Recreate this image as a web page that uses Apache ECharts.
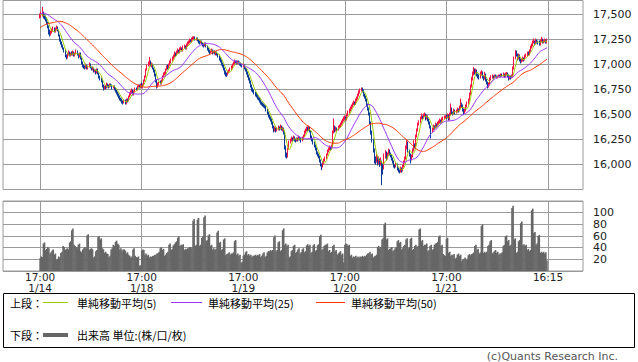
<!DOCTYPE html>
<html><head><meta charset="utf-8">
<script src="https://cdn.jsdelivr.net/npm/echarts/dist/echarts.min.js"></script>
<style>html,body{margin:0;padding:0;background:#fff}#c{width:638px;height:362px}</style>
</head><body><div id="c"></div>
<script>
// ---- tick labels ----
const dayStarts = ['1/14','1/18','1/19','1/20','1/21'];
const tickTimes = ['17:00','17:00','17:00','17:00','17:00','16:15'];
const barsPerDay = 93; // 15-minute bars, 17:00 - 16:15
// ---- closes before the visible range (needed for the moving averages) ----
const priorCloses = [17150,17170,17180,17160,17190,17210,17200,17180,17210,17230,17220,17200,17230,17240,17220,17210,17200,
17260,17280,17270,17300,17320,17310,17330,17340,
17400,17440,17470,17500,17520,17510,17530,17540,17520,17510,17530,17550,17540,17520,17500,17510,17530,17520,17500,17490,17510,17520,17500,17480];
// ---- candles [open, close, low, high] ----
const candlesDay1 = [
[17480,17490,17460,17510],[17490,17500,17470,17530],[17500,17510,17480,17576],[17510,17480,17460,17530],[17480,17470,17450,17500],
[17470,17450,17430,17490],[17450,17420,17400,17460],[17420,17380,17360,17430],[17380,17330,17300,17390],[17330,17300,17280,17350],
[17300,17320,17290,17340],[17320,17340,17310,17360],[17340,17360,17330,17380],[17360,17330,17320,17370],[17330,17350,17320,17370],
[17350,17370,17340,17390],[17370,17340,17330,17380],[17340,17290,17280,17350],[17290,17250,17230,17300],[17250,17220,17200,17260],
[17220,17190,17170,17230],[17190,17160,17150,17200],[17160,17140,17120,17170],[17140,17090,17070,17150],[17090,17070,17050,17100],
[17070,17100,17060,17110],[17100,17120,17090,17140],[17120,17090,17080,17130],[17090,17110,17080,17120],[17110,17100,17090,17130],
[17100,17120,17090,17140],[17120,17090,17080,17130],[17090,17110,17080,17120],[17110,17130,17100,17150],[17130,17100,17090,17140],
[17100,17080,17060,17110],[17080,17110,17070,17120],[17110,17060,17050,17120],[17060,17020,17000,17070],[17020,16990,16970,17030],
[16990,16980,16960,17000],[16980,16970,16950,16990],[16970,16990,16960,17010],[16990,16960,16950,17000],[16960,16980,16950,16990],
[16980,17000,16970,17020],[17000,16970,16960,17010],[16970,16950,16940,16980],[16950,16960,16940,16980],[16960,16930,16920,16970],
[16930,16940,16920,16950],[16940,16920,16900,16950],[16920,16950,16910,16960],[16950,16910,16900,16960],[16910,16880,16860,16920],
[16880,16860,16840,16890],[16860,16840,16820,16870],[16840,16790,16770,16850],[16790,16760,16740,16800],[16760,16780,16750,16790],
[16780,16770,16750,16790],[16770,16800,16760,16820],[16800,16790,16770,16810],[16790,16780,16760,16800],[16780,16800,16770,16810],
[16800,16790,16780,16810],[16790,16770,16750,16800],[16770,16780,16760,16790],[16780,16760,16740,16790],[16760,16740,16720,16770],
[16740,16720,16700,16750],[16720,16700,16680,16730],[16700,16680,16660,16710],[16680,16660,16640,16690],[16660,16650,16630,16670],
[16650,16630,16610,16660],[16630,16620,16600,16640],[16620,16640,16610,16650],[16640,16610,16600,16650],[16610,16650,16600,16660],
[16650,16640,16620,16660],[16640,16680,16630,16690],[16680,16700,16670,16720],[16700,16720,16690,16740],[16720,16740,16710,16760],
[16740,16700,16690,16750],[16700,16730,16690,16740],[16730,16760,16720,16770],[16760,16750,16740,16770],[16750,16780,16740,16790],
[16780,16790,16770,16800],[16790,16770,16760,16800],[16770,16800,16760,16810]];
const candlesDay2 = [
[16800,16780,16770,16820],[16780,16800,16760,16810],[16800,16840,16790,16850],[16840,16880,16830,16890],[16880,16950,16870,16960],
[16950,16990,16940,17000],[16990,17010,16980,17030],[17010,17030,16990,17076],[17030,16990,16980,17040],[16990,17000,16970,17020],
[17000,16960,16950,17010],[16960,16940,16920,16970],[16940,16900,16880,16950],[16900,16840,16820,16910],[16840,16790,16760,16850],
[16790,16800,16770,16820],[16800,16820,16790,16830],[16820,16810,16800,16840],[16810,16840,16800,16850],[16840,16880,16830,16890],
[16880,16900,16870,16920],[16900,16910,16890,16930],[16910,16950,16900,16960],[16950,16980,16940,16990],[16980,16970,16950,17000],
[16970,17000,16960,17010],[17000,17020,16990,17040],[17020,17040,17010,17060],[17040,17060,17030,17080],[17060,17080,17050,17100],
[17080,17110,17070,17130],[17110,17100,17080,17120],[17100,17120,17090,17140],[17120,17140,17110,17160],[17140,17120,17110,17150],
[17120,17150,17110,17170],[17150,17160,17140,17180],[17160,17140,17130,17170],[17140,17170,17130,17190],[17170,17180,17160,17200],
[17180,17160,17150,17190],[17160,17190,17150,17210],[17190,17210,17180,17230],[17210,17220,17200,17240],[17220,17240,17210,17260],
[17240,17230,17220,17250],[17230,17250,17220,17270],[17250,17260,17240,17280],[17260,17270,17250,17283],[17270,17250,17240,17280],
[17250,17260,17240,17270],[17260,17240,17230,17270],[17240,17230,17210,17250],[17230,17220,17200,17240],[17220,17230,17210,17240],
[17230,17210,17200,17240],[17210,17200,17180,17220],[17200,17190,17170,17210],[17190,17210,17180,17220],[17210,17180,17170,17220],
[17180,17160,17140,17190],[17160,17140,17120,17170],[17140,17120,17100,17150],[17120,17130,17110,17140],[17130,17140,17120,17160],
[17140,17120,17100,17150],[17120,17130,17110,17140],[17130,17110,17100,17140],[17110,17120,17090,17130],[17120,17100,17090,17130],
[17100,17090,17070,17110],[17090,17060,17040,17100],[17060,17040,17020,17070],[17040,17010,16990,17050],[17010,16990,16970,17020],
[16990,16960,16940,17000],[16960,16930,16900,16970],[16930,16910,16880,16940],[16910,16900,16876,16920],[16900,16920,16890,16940],
[16920,16940,16910,16950],[16940,16950,16930,16970],[16950,16970,16940,16990],[16970,17000,16960,17010],[17000,17010,16990,17030],
[17010,17030,17000,17050],[17030,17020,17010,17040],[17020,17010,17000,17040],[17010,17030,17000,17040],[17030,17020,17010,17040],
[17020,17010,16990,17030],[17010,16990,16980,17020],[16990,16980,16970,17000]];
const candlesDay3 = [
[16980,16990,16970,17010],[16990,16960,16950,17000],[16960,16950,16930,16970],[16950,16920,16900,16960],[16920,16890,16870,16930],
[16890,16860,16840,16900],[16860,16830,16810,16870],[16830,16790,16770,16840],[16790,16760,16730,16800],[16760,16740,16720,16770],
[16740,16720,16700,16750],[16720,16700,16680,16730],[16700,16690,16670,16720],[16690,16670,16650,16700],[16670,16660,16640,16680],
[16660,16640,16620,16670],[16640,16620,16600,16650],[16620,16610,16590,16630],[16610,16600,16580,16620],[16600,16590,16570,16610],
[16590,16580,16560,16600],[16580,16550,16530,16590],[16550,16520,16500,16560],[16520,16490,16470,16530],[16490,16470,16450,16500],
[16470,16450,16430,16480],[16450,16420,16400,16460],[16420,16380,16360,16430],[16380,16350,16320,16390],[16350,16360,16330,16380],
[16360,16340,16320,16370],[16340,16350,16330,16370],[16350,16370,16340,16390],[16370,16360,16340,16380],[16360,16380,16350,16400],
[16380,16350,16340,16390],[16350,16360,16330,16380],[16360,16320,16300,16370],[16320,16180,16150,16330],[16180,16100,16070,16190],
[16100,16080,16060,16120],[16080,16160,16070,16170],[16160,16220,16150,16240],[16220,16240,16210,16260],[16240,16260,16230,16280],
[16260,16250,16230,16270],[16250,16270,16240,16290],[16270,16250,16230,16280],[16250,16240,16220,16260],[16240,16260,16230,16270],
[16260,16250,16230,16270],[16250,16270,16240,16290],[16270,16260,16240,16280],[16260,16240,16220,16270],[16240,16260,16230,16280],
[16260,16290,16250,16300],[16290,16320,16280,16340],[16320,16340,16310,16360],[16340,16360,16330,16380],[16360,16350,16330,16380],
[16350,16370,16340,16390],[16370,16330,16320,16380],[16330,16280,16260,16340],[16280,16250,16230,16290],[16250,16220,16200,16260],
[16220,16190,16170,16230],[16190,16160,16140,16200],[16160,16120,16100,16170],[16120,16100,16080,16130],[16100,16080,16060,16110],
[16080,16040,16020,16090],[16040,16000,15980,16050],[16000,15980,15943,16010],[15980,16010,15970,16030],[16010,16040,16000,16060],
[16040,16060,16030,16080],[16060,16100,16050,16110],[16100,16130,16090,16150],[16130,16150,16120,16170],[16150,16170,16140,16190],
[16170,16160,16140,16180],[16160,16180,16150,16200],[16180,16320,16170,16340],[16320,16380,16310,16460],[16380,16340,16320,16390],
[16340,16360,16330,16380],[16360,16350,16330,16370],[16350,16370,16340,16390],[16370,16380,16360,16400],[16380,16400,16370,16420],
[16400,16420,16390,16440],[16420,16440,16410,16460],[16440,16460,16430,16480]];
const candlesDay4 = [
[16460,16470,16440,16490],[16470,16450,16430,16480],[16450,16490,16440,16510],[16490,16520,16480,16540],[16520,16540,16510,16560],
[16540,16560,16530,16580],[16560,16580,16550,16600],[16580,16600,16570,16620],[16600,16620,16590,16640],[16620,16610,16590,16630],
[16610,16640,16600,16660],[16640,16660,16630,16680],[16660,16690,16650,16710],[16690,16720,16680,16740],[16720,16740,16710,16760],
[16740,16760,16730,16770],[16760,16740,16720,16770],[16740,16700,16680,16750],[16700,16680,16660,16710],[16680,16650,16630,16690],
[16650,16600,16580,16660],[16600,16560,16540,16610],[16560,16510,16490,16570],[16510,16420,16400,16520],[16420,16330,16300,16430],
[16330,16250,16220,16340],[16250,16150,16120,16260],[16150,16060,16010,16160],[16060,16040,16000,16080],[16040,16080,16020,16110],
[16080,16020,15990,16090],[16020,16050,16000,16080],[16050,16000,15976,16060],[16000,16030,15990,16070],[16030,15980,15793,16040],
[15980,15960,15900,16010],[15960,16080,15950,16110],[16080,16120,16060,16143],[16120,16060,16040,16130],[16060,16100,16050,16120],
[16100,16140,16090,16160],[16140,16110,16090,16150],[16110,16090,16070,16120],[16090,16060,16040,16100],[16060,16030,16010,16070],
[16030,15990,15970,16040],[15990,15980,15960,16000],[15980,16000,15970,16020],[16000,15960,15940,16010],[15960,15940,15920,15970],
[15940,15930,15910,15950],[15930,15960,15920,15980],[15960,15940,15920,15970],[15940,15980,15930,16000],[15980,16020,15970,16040],
[16020,16060,16010,16080],[16060,16160,16050,16190],[16160,16220,16150,16243],[16220,16140,16120,16230],[16140,16100,16080,16150],
[16100,16060,16010,16110],[16060,16080,16040,16100],[16080,16140,16070,16160],[16140,16200,16130,16243],[16200,16180,16160,16210],
[16180,16280,16170,16300],[16280,16340,16270,16360],[16340,16400,16330,16420],[16400,16420,16390,16443],[16420,16460,16410,16480],
[16460,16480,16450,16510],[16480,16470,16450,16490],[16470,16490,16460,16510],[16490,16500,16480,16520],[16500,16460,16440,16510],
[16460,16480,16450,16500],[16480,16450,16430,16490],[16450,16420,16400,16460],[16420,16380,16360,16430],[16380,16340,16260,16390],
[16340,16350,16320,16370],[16350,16380,16340,16400],[16380,16370,16350,16390],[16370,16400,16360,16420],[16400,16390,16370,16410],
[16390,16410,16380,16430],[16410,16420,16400,16440],[16420,16440,16410,16460],[16440,16430,16410,16450],[16430,16450,16420,16470],
[16450,16460,16440,16480],[16460,16470,16450,16490],[16470,16480,16460,16493]];
const candlesDay5 = [
[16480,16470,16450,16500],[16470,16490,16460,16510],[16490,16450,16440,16500],[16450,16500,16440,16520],[16500,16560,16490,16610],
[16560,16520,16500,16570],[16520,16510,16490,16530],[16510,16540,16500,16560],[16540,16520,16500,16550],[16520,16530,16510,16550],
[16530,16550,16520,16570],[16550,16540,16520,16560],[16540,16570,16530,16590],[16570,16610,16560,16660],[16610,16590,16570,16620],
[16590,16550,16530,16600],[16550,16520,16493,16560],[16520,16540,16510,16560],[16540,16580,16530,16600],[16580,16610,16570,16630],
[16610,16640,16600,16660],[16640,16700,16630,16720],[16700,16780,16690,16800],[16780,16850,16770,16876],[16850,16900,16840,16930],
[16900,16950,16890,16976],[16950,16920,16900,16960],[16920,16940,16910,16960],[16940,16900,16880,16950],[16900,16880,16860,16910],
[16880,16870,16850,16900],[16870,16900,16860,16930],[16900,16920,16890,16943],[16920,16880,16860,16930],[16880,16860,16840,16890],
[16860,16900,16850,16926],[16900,16850,16830,16910],[16850,16820,16800,16860],[16820,16790,16760,16830],[16790,16800,16770,16820],
[16800,16850,16790,16870],[16850,16870,16840,16893],[16870,16880,16860,16900],[16880,16870,16850,16890],[16870,16890,16860,16900],
[16890,16880,16870,16900],[16880,16870,16860,16890],[16870,16880,16860,16890],[16880,16890,16870,16900],[16890,16880,16870,16900],
[16880,16900,16870,16910],[16900,16890,16880,16910],[16890,16900,16880,16920],[16900,16880,16870,16910],[16880,16900,16870,16920],
[16900,16910,16890,16926],[16910,16890,16870,16920],[16890,16860,16840,16900],[16860,16880,16850,16890],[16880,16870,16850,16890],
[16870,16880,16860,16900],[16880,16960,16870,16980],[16960,17060,16950,17080],[17060,17120,17050,17143],[17120,17100,17080,17140],
[17100,17060,17040,17110],[17060,17090,17050,17110],[17090,17050,17030,17100],[17050,17030,17010,17060],[17030,17040,17020,17060],
[17040,17060,17030,17080],[17060,17050,17030,17070],[17050,17080,17040,17100],[17080,17090,17070,17110],[17090,17110,17080,17130],
[17110,17100,17090,17130],[17100,17130,17090,17150],[17130,17170,17120,17190],[17170,17190,17160,17210],[17190,17220,17180,17240],
[17220,17230,17210,17260],[17230,17210,17190,17240],[17210,17240,17200,17260],[17240,17230,17210,17250],[17230,17220,17200,17240],
[17220,17200,17190,17240],[17200,17230,17190,17250],[17230,17250,17220,17276],[17250,17220,17210,17260],[17220,17230,17210,17250],
[17230,17240,17220,17260],[17240,17220,17210,17250],[17220,17250,17210,17260]];
// ---- volume ----
const volDay1 = [22,25,24,47,49,36,38,41,39,30,32,35,37,28,30,19,21,25,23,31,33,43,41,36,38,39,37,49,51,70,73,45,43,41,39,45,47,34,32,37,39,41,39,61,63,36,38,39,37,23,25,34,36,58,60,54,56,39,37,31,33,30,29,24,26,37,39,45,43,50,52,47,45,37,39,35,37,37,35,30,32,28,26,23,25,37,39,26,24,23,25,9,10];
const volDay2 = [35,37,36,28,30,26,28,23,25,24,26,26,28,28,30,31,33,39,41,36,38,26,28,31,33,45,47,36,38,44,46,49,51,57,59,43,45,44,46,36,38,37,39,39,41,41,39,86,89,43,45,88,91,43,45,57,59,92,95,51,53,61,63,43,45,37,39,36,38,66,69,48,50,36,38,54,56,27,29,30,32,28,30,30,32,51,53,28,30,26,28,14,16];
const volDay3 = [26,28,32,34,27,29,26,28,24,26,26,28,26,28,27,29,24,26,30,32,24,26,32,34,34,36,34,36,58,61,34,36,49,51,34,36,70,73,45,47,43,45,23,25,34,36,43,45,31,33,37,39,30,32,37,39,32,34,44,46,43,45,31,33,44,46,34,36,44,46,60,62,36,38,43,45,45,47,34,36,31,33,43,45,34,36,28,30,32,34,28,30,15];
const volDay4 = [45,47,46,43,45,26,28,23,25,24,26,23,25,23,25,24,26,24,26,25,28,30,31,33,28,30,23,25,26,28,41,43,39,41,54,56,80,83,54,56,36,38,39,41,34,36,39,41,51,53,48,50,37,39,43,45,54,56,39,41,55,57,36,38,43,45,41,43,71,73,51,53,43,45,45,47,34,36,43,45,36,38,45,47,48,50,59,61,43,45,29,27,26];
const volDay5 = [55,57,31,33,26,28,27,29,21,23,28,30,26,28,17,19,21,23,19,21,27,29,27,29,30,32,43,45,36,38,30,32,77,80,31,33,31,33,43,45,51,53,30,32,34,36,31,33,28,30,30,32,43,45,59,61,51,53,43,45,108,112,54,56,31,33,51,53,82,85,44,46,43,45,36,38,34,36,104,107,65,67,45,47,60,62,31,33,31,33,30,32,18];
const maPeriods = [5, 25, 50];

// ---- build ----
const LEAD = 34, TRAIL = 32;
const candles = [].concat(candlesDay1, candlesDay2, candlesDay3, candlesDay4, candlesDay5);
const volumes = [].concat(volDay1, volDay2, volDay3, volDay4, volDay5);
const closes = candles.map(c => c[1]);
const allCloses = priorCloses.concat(closes);
const P = priorCloses.length;
const nCats = LEAD + dayStarts.length * barsPerDay + 1 + TRAIL;
const cats = [];
for (let i = 0; i < nCats; i++) cats.push(String(i));
const tickMap = {};
tickTimes.forEach((t, k) => {
  tickMap[LEAD + k * barsPerDay] = t + (k < dayStarts.length ? '\n' + dayStarts[k] : '');
});
const isTick = (i) => tickMap[i] !== undefined;

function ma(n) {
  const out = [];
  for (let i = 0; i < closes.length; i++) {
    let s = 0;
    for (let k = P + i - n + 1; k <= P + i; k++) s += allCloses[k];
    out.push([LEAD + i, +(s / n).toFixed(1)]);
  }
  return out;
}
const candleData = candles.map((c, i) => [LEAD + i, c[0], c[1], c[2], c[3]]);
const volData = volumes.map((v, i) => [LEAD + i, v]);
const maColors = ['#99cc00', '#9933ff', '#ff3300'];

const chart = echarts.init(document.getElementById('c'), null, {renderer: 'svg'});
const gridLine = {color: '#9a9a9a', width: 1};
const axisFont = {fontFamily: 'DejaVu Sans', fontSize: 11, color: '#222'};
const legendFont = '11px "Noto Sans CJK JP"';

chart.setOption({
  animation: false,
  backgroundColor: '#fff',
  grid: [
    {left: 3, right: 55, top: 0.5, height: 189, show: true, borderColor: '#9a9a9a', borderWidth: 1},
    {left: 3, right: 55, top: 201, height: 70, show: true, borderColor: '#9a9a9a', borderWidth: 1}
  ],
  xAxis: [
    {type: 'category', gridIndex: 0, data: cats, boundaryGap: false,
     axisLine: {show: false}, axisTick: {show: false}, axisLabel: {show: false},
     splitLine: {show: true, interval: (i) => isTick(i), lineStyle: gridLine}},
    {type: 'category', gridIndex: 1, data: cats, boundaryGap: false,
     axisLine: {show: false}, axisTick: {show: false},
     axisLabel: Object.assign({show: true, interval: (i) => isTick(i), margin: 0, lineHeight: 11.5,
       formatter: (v, i) => tickMap[i] || ''}, axisFont, {fontSize: 10.5}),
     splitLine: {show: true, interval: (i) => isTick(i), lineStyle: gridLine}}
  ],
  yAxis: [
    {type: 'value', gridIndex: 0, position: 'right', min: 15750, max: 17640, interval: 250, scale: true,
     axisLine: {show: false}, axisTick: {show: false},
     axisLabel: Object.assign({margin: 10, showMinLabel: false, showMaxLabel: false,
       formatter: (v) => (v >= 16000 && v <= 17500 && v % 250 === 0) ? v.toLocaleString('en-US') : ''}, axisFont),
     splitLine: {show: true, lineStyle: gridLine}},
    {type: 'value', gridIndex: 1, position: 'right', min: 0, max: 120, interval: 20,
     axisLine: {show: false}, axisTick: {show: false},
     axisLabel: Object.assign({margin: 10, formatter: (v) => (v > 0 && v < 120) ? String(v) : ''}, axisFont),
     splitLine: {show: true, lineStyle: gridLine}}
  ],
  series: [
    {type: 'candlestick', xAxisIndex: 0, yAxisIndex: 0, data: candleData,
     encode: {x: 0, y: [1, 2, 3, 4]}, barWidth: 1,
     itemStyle: {color: '#ff1144', color0: '#0a3a9a', borderColor: '#ff1144', borderColor0: '#0a3a9a', borderWidth: 1}},
    ...maPeriods.map((n, k) => ({
      type: 'line', xAxisIndex: 0, yAxisIndex: 0, data: ma(n), showSymbol: false, symbol: 'none',
      lineStyle: {color: maColors[k], width: 1}, z: 3 + k
    })),
    {type: 'bar', xAxisIndex: 1, yAxisIndex: 1, data: volData, barWidth: 1.6,
     itemStyle: {color: '#666666'}, large: false}
  ],
  graphic: [
    {type: 'rect', shape: {x: 3.5, y: 293.5, width: 631, height: 54}, style: {fill: 'none', stroke: '#000', lineWidth: 1}},
    {type: 'text', x: 10, y: 303, style: {text: '上段：', font: legendFont, fill: '#000', textVerticalAlign: 'middle'}},
    {type: 'line', shape: {x1: 43, y1: 302.5, x2: 68, y2: 302.5}, style: {stroke: maColors[0], lineWidth: 1}},
    {type: 'text', x: 77, y: 303, style: {text: '単純移動平均(5)', font: legendFont, fill: '#000', textVerticalAlign: 'middle'}},
    {type: 'line', shape: {x1: 171, y1: 302.5, x2: 202, y2: 302.5}, style: {stroke: maColors[1], lineWidth: 1}},
    {type: 'text', x: 208, y: 303, style: {text: '単純移動平均(25)', font: legendFont, fill: '#000', textVerticalAlign: 'middle'}},
    {type: 'line', shape: {x1: 316, y1: 302.5, x2: 345, y2: 302.5}, style: {stroke: maColors[2], lineWidth: 1}},
    {type: 'text', x: 351, y: 303, style: {text: '単純移動平均(50)', font: legendFont, fill: '#000', textVerticalAlign: 'middle'}},
    {type: 'text', x: 10, y: 335, style: {text: '下段：', font: legendFont, fill: '#000', textVerticalAlign: 'middle'}},
    {type: 'line', shape: {x1: 43, y1: 335, x2: 68, y2: 335}, style: {stroke: '#666666', lineWidth: 4}},
    {type: 'text', x: 77, y: 335, style: {text: '出来高 単位:(株/口/枚)', font: legendFont, fill: '#000', textVerticalAlign: 'middle'}},
    {type: 'text', x: 618, y: 356, style: {text: '(c)Quants Research Inc.', font: '11px "DejaVu Sans"', fill: '#555', textAlign: 'right', textVerticalAlign: 'middle'}}
  ]
});
</script>
</body></html>
